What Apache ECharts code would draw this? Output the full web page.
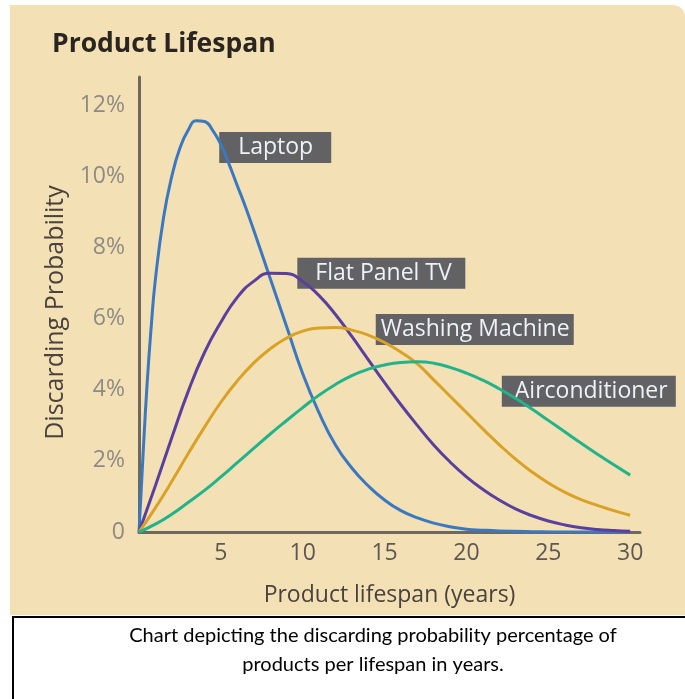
<!DOCTYPE html>
<html>
<head>
<meta charset="utf-8">
<script src="https://cdn.jsdelivr.net/npm/echarts@6/dist/echarts.min.js"></script>
<style>
  html, body { margin: 0; padding: 0; background: #ffffff; }
  #lifespanChart { width: 685px; height: 699px; }
</style>
</head>
<body>
<div id="lifespanChart"></div>
<script>
// 数据：横轴为年份，纵轴为丢弃概率（%）
var seriesNames = ['Laptop', 'Flat Panel TV', 'Washing Machine', 'Airconditioner'];
var yTicks = [0, 2, 4, 6, 8, 10, 12];
var xTicks = [5, 10, 15, 20, 25, 30];

var laptopData = [
    [0, 0], [0.25, 2.2], [0.5, 4.2], [0.75, 5.8], [1, 7.1], [1.5, 8.85], [2, 10.0], [2.5, 10.8],
    [3, 11.3], [3.5, 11.57], [4, 11.55], [4.5, 11.3], [5, 10.9], [5.5, 10.35], [6, 9.75],
    [6.5, 9.15], [7, 8.5], [8, 7.15], [9, 5.8], [10, 4.45], [11, 3.35], [12, 2.45], [13, 1.8],
    [14, 1.3], [15, 0.9], [16, 0.6], [17, 0.4], [18, 0.25], [19, 0.15], [20, 0.08], [21, 0.05],
    [22, 0.03], [24, 0.01], [26, 0], [28, 0], [30, 0]
];
var flatPanelData = [
    [0, 0], [1, 1.3], [2, 2.65], [3, 3.95], [4, 5.05], [5, 5.9], [6, 6.6], [7, 7.05], [8, 7.28],
    [9, 7.27], [10, 7.05], [11, 6.65], [12, 6.12], [13, 5.5], [14, 4.85], [15, 4.2], [16, 3.58],
    [17, 3.0], [18, 2.45], [19, 1.97], [20, 1.55], [21, 1.2], [22, 0.9], [23, 0.65], [24, 0.46],
    [25, 0.31], [26, 0.2], [27, 0.12], [28, 0.07], [29, 0.04], [30, 0.02]
];
var washingData = [
    [0, 0], [1, 0.68], [2, 1.42], [3, 2.2], [4, 2.95], [5, 3.65], [6, 4.25], [7, 4.75], [8, 5.15],
    [9, 5.45], [10, 5.65], [11, 5.74], [12, 5.75], [13, 5.68], [14, 5.54], [15, 5.33], [16, 5.06],
    [17, 4.73], [18, 4.28], [19, 3.82], [20, 3.36], [21, 2.9], [22, 2.46], [23, 2.05], [24, 1.69],
    [25, 1.38], [26, 1.12], [27, 0.91], [28, 0.75], [29, 0.6], [30, 0.47]
];
var airconData = [
    [0, 0], [1, 0.22], [2, 0.5], [3, 0.83], [4, 1.17], [5, 1.55], [6, 1.95], [7, 2.35], [8, 2.75],
    [9, 3.13], [10, 3.5], [11, 3.85], [12, 4.15], [13, 4.4], [14, 4.58], [15, 4.7], [16, 4.77],
    [17, 4.79], [18, 4.75], [19, 4.63], [20, 4.47], [21, 4.27], [22, 4.03], [23, 3.76], [24, 3.46],
    [25, 3.14], [26, 2.82], [27, 2.5], [28, 2.19], [29, 1.89], [30, 1.6]
];

var allData = [laptopData, flatPanelData, washingData, airconData];
var lineColors = ['#3b78c2', '#5a3f9e', '#d9a227', '#22b38a'];
// 标签框位置（坐标系单位）及尺寸
var labelSpots = [[4.9, 10.82], [9.67, 7.28], [14.46, 5.70], [22.16, 3.96]];
var labelBox = [[19, 112], [18, 168], [5, 198], [13, 174]];

var chart = echarts.init(document.getElementById('lifespanChart'));

var series = [];
for (var i = 0; i < seriesNames.length; i++) {
    series.push({
        name: seriesNames[i],
        type: 'line',
        data: allData[i],
        smooth: 0.5,
        showSymbol: false,
        z: 3,
        lineStyle: { color: lineColors[i], width: 3 },
        markPoint: {
            z: 1,
            symbol: 'rect',
            symbolSize: 0,
            silent: true,
            data: [{ coord: labelSpots[i] }],
            label: {
                show: true,
                position: 'right',
                distance: 0,
                formatter: seriesNames[i],
                fontFamily: 'Open Sans',
                fontSize: 23,
                lineHeight: 25,
                color: '#edf1f8',
                backgroundColor: '#626264',
                align: 'left',
                width: labelBox[i][1] - labelBox[i][0],
                padding: [3, 0, 3, labelBox[i][0]]
            }
        }
    });
}

var option = {
    animation: false,
    title: {
        text: 'Product Lifespan',
        left: 47,
        top: 26,
        textStyle: { fontFamily: 'Open Sans', fontWeight: 'bold', fontSize: 26.5, color: '#2a2520' }
    },
    graphic: [
        {
            type: 'rect', z: -10, silent: true,
            shape: { x: 10, y: 5, width: 675, height: 610, r: [0, 12, 0, 0] },
            style: { fill: '#f3e0b4' }
        },
        {
            type: 'rect', z: -10, silent: true,
            shape: { x: 13, y: 617, width: 700, height: 100 },
            style: { fill: '#ffffff', stroke: '#000000', lineWidth: 2 }
        },
        {
            type: 'text', silent: true,
            x: 373, y: 621,
            style: {
                text: 'Chart depicting the discarding probability percentage of\nproducts per lifespan in years.',
                fontFamily: 'Lato', fontSize: 20, lineHeight: 29,
                fill: '#000000', align: 'center', verticalAlign: 'top'
            }
        }
    ],
    grid: { left: 139, right: 45, top: 77, bottom: 167 },
    xAxis: {
        type: 'value',
        min: 0,
        max: 30.6,
        interval: 5,
        name: 'Product lifespan (years)',
        nameLocation: 'middle',
        nameGap: 52,
        nameTextStyle: { fontFamily: 'Open Sans', fontSize: 23, color: '#4a423c' },
        axisLine: { lineStyle: { color: '#6f685e', width: 3 } },
        axisTick: { show: false },
        splitLine: { show: false },
        axisLabel: {
            showMinLabel: false,
            showMaxLabel: false,
            margin: 10,
            fontFamily: 'Open Sans',
            fontSize: 23,
            color: '#5d5853',
            formatter: function (v) { return xTicks.indexOf(v) >= 0 ? String(v) : ''; }
        }
    },
    yAxis: {
        type: 'value',
        min: 0,
        max: 12.8,
        interval: 2,
        name: 'Discarding Probability',
        nameLocation: 'middle',
        nameGap: 66,
        nameTextStyle: { fontFamily: 'Open Sans', fontSize: 25, color: '#4a423c', padding: [0, 16, 0, 0] },
        axisLine: { lineStyle: { color: '#6f685e', width: 3 } },
        axisTick: { show: false },
        splitLine: { show: false },
        axisLabel: {
            showMaxLabel: false,
            margin: 14,
            fontFamily: 'Open Sans',
            fontSize: 23,
            color: '#8e8a85',
            formatter: function (v) {
                if (yTicks.indexOf(v) < 0) return '';
                return v === 0 ? '0' : v + '%';
            }
        }
    },
    series: series
};

chart.setOption(option);
</script>
</body>
</html>
